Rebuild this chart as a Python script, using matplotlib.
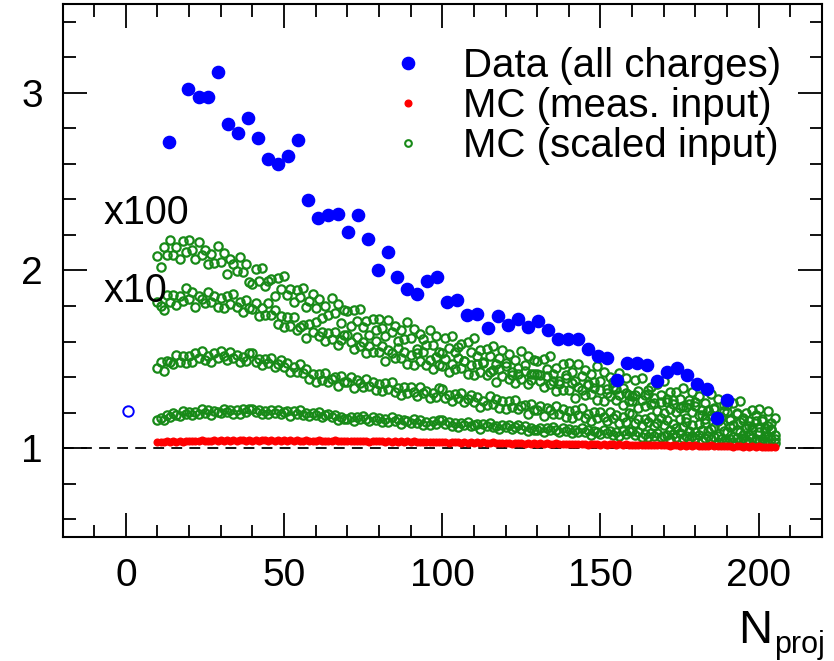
import numpy as np
import matplotlib.pyplot as plt
from matplotlib.ticker import MultipleLocator

plt.rcParams['font.family'] = ['Liberation Sans', 'DejaVu Sans']

# Data (all charges)
n_data = [13.5, 19.8, 23.0, 26.1, 29.2, 32.4, 35.5, 38.7, 41.8, 45.0, 48.1, 51.3, 54.4, 57.5,
          60.7, 63.8, 67.0, 70.1, 73.3, 76.4, 79.6, 82.7, 85.8, 89.0, 92.1, 95.3, 98.4, 101.6,
          104.7, 107.9, 111.0, 114.5, 117.6, 120.8, 123.9, 127.0, 130.2, 133.3, 136.5, 139.6,
          142.8, 145.9, 149.1, 152.2, 155.3, 158.5, 161.6, 164.8, 167.9, 171.1, 174.2, 177.4,
          180.5, 183.6, 186.8, 190.0]
data = [2.723, 3.024, 2.977, 2.977, 3.119, 2.825, 2.771, 2.859, 2.747, 2.628, 2.598, 2.645,
        2.734, 2.398, 2.293, 2.315, 2.319, 2.219, 2.311, 2.175, 2.000, 2.106, 1.966, 1.896,
        1.866, 1.938, 1.962, 1.821, 1.832, 1.751, 1.755, 1.676, 1.741, 1.694, 1.727, 1.683,
        1.717, 1.666, 1.613, 1.613, 1.613, 1.557, 1.519, 1.506, 1.383, 1.481, 1.481, 1.470,
        1.376, 1.428, 1.453, 1.413, 1.362, 1.334, 1.172, 1.270]

# single open point near N=1
n_open = [0.8]
open_val = [1.208]

# MC: N = 10 ... 205
n_mc = np.arange(10, 206)

mc_meas = [
    1.034, 1.037, 1.033, 1.038, 1.036, 1.039, 1.035, 1.040, 1.037, 1.041,
    1.038, 1.042, 1.039, 1.041, 1.044, 1.040, 1.043, 1.039, 1.045, 1.042,
    1.044, 1.041, 1.046, 1.043, 1.045, 1.042, 1.047, 1.044, 1.041, 1.046,
    1.043, 1.045, 1.042, 1.047, 1.044, 1.041, 1.046, 1.043, 1.045, 1.042,
    1.044, 1.041, 1.045, 1.042, 1.044, 1.040, 1.043, 1.045, 1.041, 1.043,
    1.040, 1.044, 1.041, 1.043, 1.039, 1.042, 1.044, 1.040, 1.042, 1.039,
    1.041, 1.043, 1.039, 1.042, 1.038, 1.041, 1.040, 1.037, 1.041, 1.039,
    1.038, 1.040, 1.036, 1.039, 1.037, 1.040, 1.035, 1.038, 1.036, 1.039,
    1.035, 1.038, 1.034, 1.037, 1.035, 1.033, 1.037, 1.034, 1.036, 1.032,
    1.035, 1.033, 1.031, 1.034, 1.032, 1.035, 1.030, 1.033, 1.031, 1.034,
    1.030, 1.032, 1.029, 1.033, 1.031, 1.028, 1.032, 1.029, 1.031, 1.027,
    1.030, 1.028, 1.026, 1.029, 1.027, 1.030, 1.025, 1.028, 1.026, 1.029,
    1.025, 1.027, 1.024, 1.028, 1.026, 1.023, 1.027, 1.024, 1.026, 1.022,
    1.025, 1.023, 1.021, 1.024, 1.022, 1.025, 1.020, 1.023, 1.021, 1.024,
    1.020, 1.022, 1.019, 1.023, 1.021, 1.018, 1.022, 1.019, 1.021, 1.017,
    1.020, 1.018, 1.016, 1.019, 1.017, 1.020, 1.015, 1.018, 1.016, 1.019,
    1.015, 1.017, 1.014, 1.018, 1.016, 1.013, 1.017, 1.014, 1.016, 1.012,
    1.015, 1.013, 1.011, 1.014, 1.012, 1.015, 1.010, 1.013, 1.011, 1.014,
    1.010, 1.012, 1.009, 1.013, 1.011, 1.008, 1.012, 1.009, 1.011, 1.007,
    1.010, 1.008, 1.006, 1.009, 1.007, 1.005]

mc_scaled_1 = [
    1.156, 1.172, 1.159, 1.189, 1.178, 1.199, 1.189, 1.181, 1.208, 1.194,
    1.205, 1.186, 1.204, 1.193, 1.219, 1.198, 1.214, 1.186, 1.210, 1.205,
    1.197, 1.220, 1.202, 1.216, 1.193, 1.212, 1.193, 1.218, 1.203, 1.223,
    1.223, 1.202, 1.217, 1.191, 1.210, 1.190, 1.213, 1.198, 1.217, 1.194,
    1.203, 1.207, 1.182, 1.210, 1.194, 1.215, 1.189, 1.198, 1.180, 1.198,
    1.188, 1.202, 1.175, 1.184, 1.195, 1.175, 1.187, 1.161, 1.177, 1.165,
    1.163, 1.173, 1.154, 1.178, 1.162, 1.179, 1.165, 1.153, 1.176, 1.159,
    1.167, 1.146, 1.162, 1.150, 1.174, 1.151, 1.165, 1.135, 1.157, 1.151,
    1.141, 1.163, 1.143, 1.156, 1.132, 1.150, 1.130, 1.154, 1.138, 1.157,
    1.156, 1.135, 1.149, 1.123, 1.141, 1.121, 1.143, 1.128, 1.146, 1.122,
    1.130, 1.134, 1.110, 1.138, 1.122, 1.143, 1.117, 1.127, 1.109, 1.128,
    1.118, 1.133, 1.107, 1.117, 1.129, 1.110, 1.123, 1.097, 1.114, 1.102,
    1.101, 1.111, 1.092, 1.116, 1.101, 1.118, 1.104, 1.092, 1.116, 1.099,
    1.107, 1.086, 1.102, 1.090, 1.114, 1.091, 1.105, 1.075, 1.097, 1.091,
    1.081, 1.103, 1.083, 1.096, 1.072, 1.090, 1.070, 1.094, 1.078, 1.097,
    1.096, 1.075, 1.089, 1.063, 1.081, 1.061, 1.083, 1.068, 1.086, 1.062,
    1.070, 1.074, 1.050, 1.078, 1.062, 1.083, 1.057, 1.067, 1.049, 1.068,
    1.058, 1.073, 1.047, 1.057, 1.069, 1.050, 1.063, 1.037, 1.054, 1.042,
    1.041, 1.051, 1.032, 1.056, 1.041, 1.058, 1.044, 1.032, 1.056, 1.039,
    1.047, 1.026, 1.042, 1.030, 1.054, 1.031]

mc_scaled_2 = [
    1.453, 1.487, 1.437, 1.489, 1.484, 1.472, 1.522, 1.487, 1.520, 1.478,
    1.521, 1.483, 1.533, 1.506, 1.546, 1.497, 1.520, 1.485, 1.536, 1.508,
    1.545, 1.518, 1.495, 1.542, 1.508, 1.524, 1.483, 1.513, 1.490, 1.537,
    1.535, 1.483, 1.501, 1.466, 1.502, 1.481, 1.510, 1.458, 1.476, 1.498,
    1.459, 1.482, 1.426, 1.456, 1.428, 1.472, 1.425, 1.445, 1.388, 1.419,
    1.372, 1.416, 1.385, 1.422, 1.374, 1.390, 1.399, 1.351, 1.405, 1.375,
    1.373, 1.398, 1.339, 1.382, 1.368, 1.347, 1.390, 1.348, 1.374, 1.325,
    1.361, 1.319, 1.365, 1.334, 1.370, 1.317, 1.336, 1.297, 1.344, 1.312,
    1.345, 1.318, 1.295, 1.342, 1.308, 1.324, 1.283, 1.313, 1.290, 1.337,
    1.335, 1.283, 1.301, 1.266, 1.302, 1.281, 1.310, 1.258, 1.276, 1.298,
    1.259, 1.286, 1.234, 1.268, 1.244, 1.292, 1.251, 1.277, 1.226, 1.263,
    1.222, 1.265, 1.233, 1.269, 1.220, 1.235, 1.243, 1.194, 1.247, 1.216,
    1.213, 1.239, 1.181, 1.225, 1.212, 1.192, 1.236, 1.195, 1.222, 1.174,
    1.211, 1.170, 1.217, 1.187, 1.224, 1.172, 1.192, 1.154, 1.202, 1.171,
    1.205, 1.178, 1.155, 1.202, 1.168, 1.184, 1.143, 1.173, 1.150, 1.197,
    1.195, 1.144, 1.163, 1.129, 1.166, 1.146, 1.176, 1.125, 1.144, 1.167,
    1.129, 1.156, 1.104, 1.138, 1.114, 1.162, 1.121, 1.147, 1.096, 1.133,
    1.092, 1.136, 1.105, 1.142, 1.094, 1.110, 1.119, 1.071, 1.125, 1.095,
    1.093, 1.119, 1.061, 1.105, 1.092, 1.072, 1.116, 1.075, 1.102, 1.054,
    1.091, 1.050, 1.097, 1.067, 1.104, 1.052]

mc_scaled_3 = [
    1.825, 1.800, 1.780, 1.860, 1.825, 1.860, 1.808, 1.856, 1.829, 1.900,
    1.840, 1.878, 1.796, 1.859, 1.842, 1.815, 1.878, 1.821, 1.859, 1.792,
    1.845, 1.788, 1.856, 1.814, 1.867, 1.795, 1.821, 1.767, 1.833, 1.789,
    1.785, 1.819, 1.743, 1.787, 1.751, 1.815, 1.750, 1.780, 1.700, 1.745,
    1.680, 1.737, 1.689, 1.736, 1.663, 1.680, 1.691, 1.622, 1.698, 1.654,
    1.710, 1.632, 1.654, 1.601, 1.648, 1.615, 1.656, 1.582, 1.608, 1.639,
    1.635, 1.595, 1.560, 1.625, 1.575, 1.595, 1.535, 1.575, 1.540, 1.605,
    1.540, 1.576, 1.492, 1.553, 1.534, 1.505, 1.566, 1.507, 1.543, 1.474,
    1.525, 1.467, 1.534, 1.491, 1.543, 1.470, 1.497, 1.444, 1.511, 1.468,
    1.465, 1.502, 1.429, 1.476, 1.443, 1.510, 1.452, 1.489, 1.416, 1.468,
    1.410, 1.471, 1.427, 1.478, 1.409, 1.430, 1.441, 1.372, 1.448, 1.404,
    1.460, 1.387, 1.414, 1.366, 1.418, 1.390, 1.432, 1.359, 1.386, 1.418,
    1.415, 1.376, 1.342, 1.408, 1.359, 1.380, 1.321, 1.362, 1.328, 1.394,
    1.330, 1.367, 1.284, 1.346, 1.328, 1.300, 1.362, 1.304, 1.341, 1.273,
    1.325, 1.267, 1.334, 1.291, 1.343, 1.270, 1.297, 1.244, 1.311, 1.268,
    1.265, 1.301, 1.227, 1.273, 1.239, 1.305, 1.246, 1.282, 1.208, 1.259,
    1.200, 1.262, 1.219, 1.271, 1.203, 1.225, 1.237, 1.169, 1.246, 1.203,
    1.260, 1.186, 1.212, 1.163, 1.214, 1.185, 1.226, 1.152, 1.178, 1.209,
    1.205, 1.166, 1.132, 1.198, 1.149, 1.170, 1.111, 1.152, 1.118, 1.184,
    1.120, 1.154, 1.068, 1.127, 1.106, 1.075]

mc_scaled_4 = [
    2.081, 2.019, 2.132, 2.086, 2.173, 2.085, 2.132, 2.067, 2.165, 2.104,
    2.169, 2.114, 2.066, 2.158, 2.089, 2.118, 2.035, 2.092, 2.044, 2.136,
    2.046, 2.096, 1.978, 2.063, 2.036, 1.995, 2.076, 1.989, 2.035, 1.934,
    1.924, 2.007, 1.943, 2.012, 1.913, 1.940, 1.953, 1.854, 1.958, 1.894,
    1.970, 1.863, 1.896, 1.824, 1.892, 1.848, 1.902, 1.795, 1.828, 1.868,
    1.789, 1.839, 1.735, 1.799, 1.751, 1.843, 1.760, 1.810, 1.706, 1.777,
    1.771, 1.687, 1.778, 1.715, 1.785, 1.680, 1.715, 1.638, 1.729, 1.666,
    1.729, 1.676, 1.629, 1.723, 1.655, 1.686, 1.604, 1.663, 1.616, 1.710,
    1.621, 1.673, 1.556, 1.643, 1.617, 1.578, 1.664, 1.583, 1.634, 1.539,
    1.534, 1.621, 1.561, 1.634, 1.539, 1.570, 1.587, 1.492, 1.600, 1.540,
    1.620, 1.517, 1.554, 1.486, 1.558, 1.518, 1.576, 1.473, 1.510, 1.554,
    1.479, 1.532, 1.431, 1.498, 1.453, 1.548, 1.468, 1.521, 1.420, 1.494,
    1.491, 1.410, 1.504, 1.444, 1.517, 1.415, 1.453, 1.379, 1.473, 1.413,
    1.479, 1.426, 1.380, 1.474, 1.407, 1.438, 1.357, 1.416, 1.370, 1.464,
    1.376, 1.428, 1.312, 1.399, 1.374, 1.335, 1.422, 1.341, 1.393, 1.298,
    1.294, 1.381, 1.321, 1.394, 1.299, 1.330, 1.347, 1.252, 1.360, 1.300,
    1.380, 1.277, 1.314, 1.246, 1.318, 1.278, 1.336, 1.233, 1.270, 1.314,
    1.239, 1.291, 1.189, 1.255, 1.209, 1.303, 1.222, 1.274, 1.172, 1.245,
    1.241, 1.159, 1.252, 1.191, 1.263, 1.160, 1.197, 1.122, 1.215, 1.154,
    1.219, 1.164, 1.116, 1.208, 1.139, 1.168]

green = '#188a18'

fig = plt.figure(figsize=(8.34, 6.61), dpi=100)
ax = fig.add_axes([0.075, 0.1876, 0.9106, 0.8064])

ax.axhline(1.0, color='black', lw=1.3, ls=(0, (6, 4)), zorder=1)

first = True
for band in [mc_scaled_1, mc_scaled_2, mc_scaled_3, mc_scaled_4]:
    ax.plot(n_mc, band, 'o', ms=6.0, mfc='none', mec=green, mew=1.6,
            label='MC (scaled input)' if first else None, zorder=2)
    first = False
ax.plot(n_mc, mc_meas, 'o', ms=4.8, color='red', mec='red', zorder=3,
        label='MC (meas. input)')
ax.plot(n_data, data, 'o', ms=8.8, color='blue', mec='blue', zorder=4,
        label='Data (all charges)')
ax.plot(n_open, open_val, 'o', ms=7.5, mfc='none', mec='blue', mew=1.4, zorder=4)

ax.set_xlim(-20, 220)
ax.set_ylim(0.5, 3.5)
ax.xaxis.set_major_locator(MultipleLocator(50))
ax.xaxis.set_minor_locator(MultipleLocator(10))
ax.yaxis.set_major_locator(MultipleLocator(1))
ax.yaxis.set_minor_locator(MultipleLocator(0.2))
ax.tick_params(which='both', direction='in', top=True, right=True, width=1.3)
ax.tick_params(which='major', length=17)
ax.tick_params(which='minor', length=9)
ax.tick_params(axis='x', labelsize=28, pad=15)
ax.tick_params(axis='y', labelsize=28, pad=14)
for s in ax.spines.values():
    s.set_linewidth(1.5)

ax.text(-7.2, 2.26, 'x100', fontsize=28.5, va='baseline', ha='left')
ax.text(-7.2, 1.825, 'x10', fontsize=28.5, va='baseline', ha='left')

handles, labels = ax.get_legend_handles_labels()
order = [labels.index('Data (all charges)'), labels.index('MC (meas. input)'),
         labels.index('MC (scaled input)')]
leg = ax.legend([handles[i] for i in order], [labels[i] for i in order],
                loc='upper left', bbox_to_anchor=(0.4233, 0.92), frameon=False,
                fontsize=29, handletextpad=0.75, labelspacing=0.05, handlelength=1.2,
                borderaxespad=0, borderpad=0)
leg.legend_handles[2].set_markersize(4.8)
leg.legend_handles[2].set_markeredgewidth(1.5)

fig.text(772 / 834, 1 - 643 / 661, 'N', fontsize=34, ha='right', va='baseline')
fig.text(774 / 834, 1 - 653 / 661, 'proj', fontsize=22, ha='left', va='baseline')

fig.savefig('out.png', dpi=100)
